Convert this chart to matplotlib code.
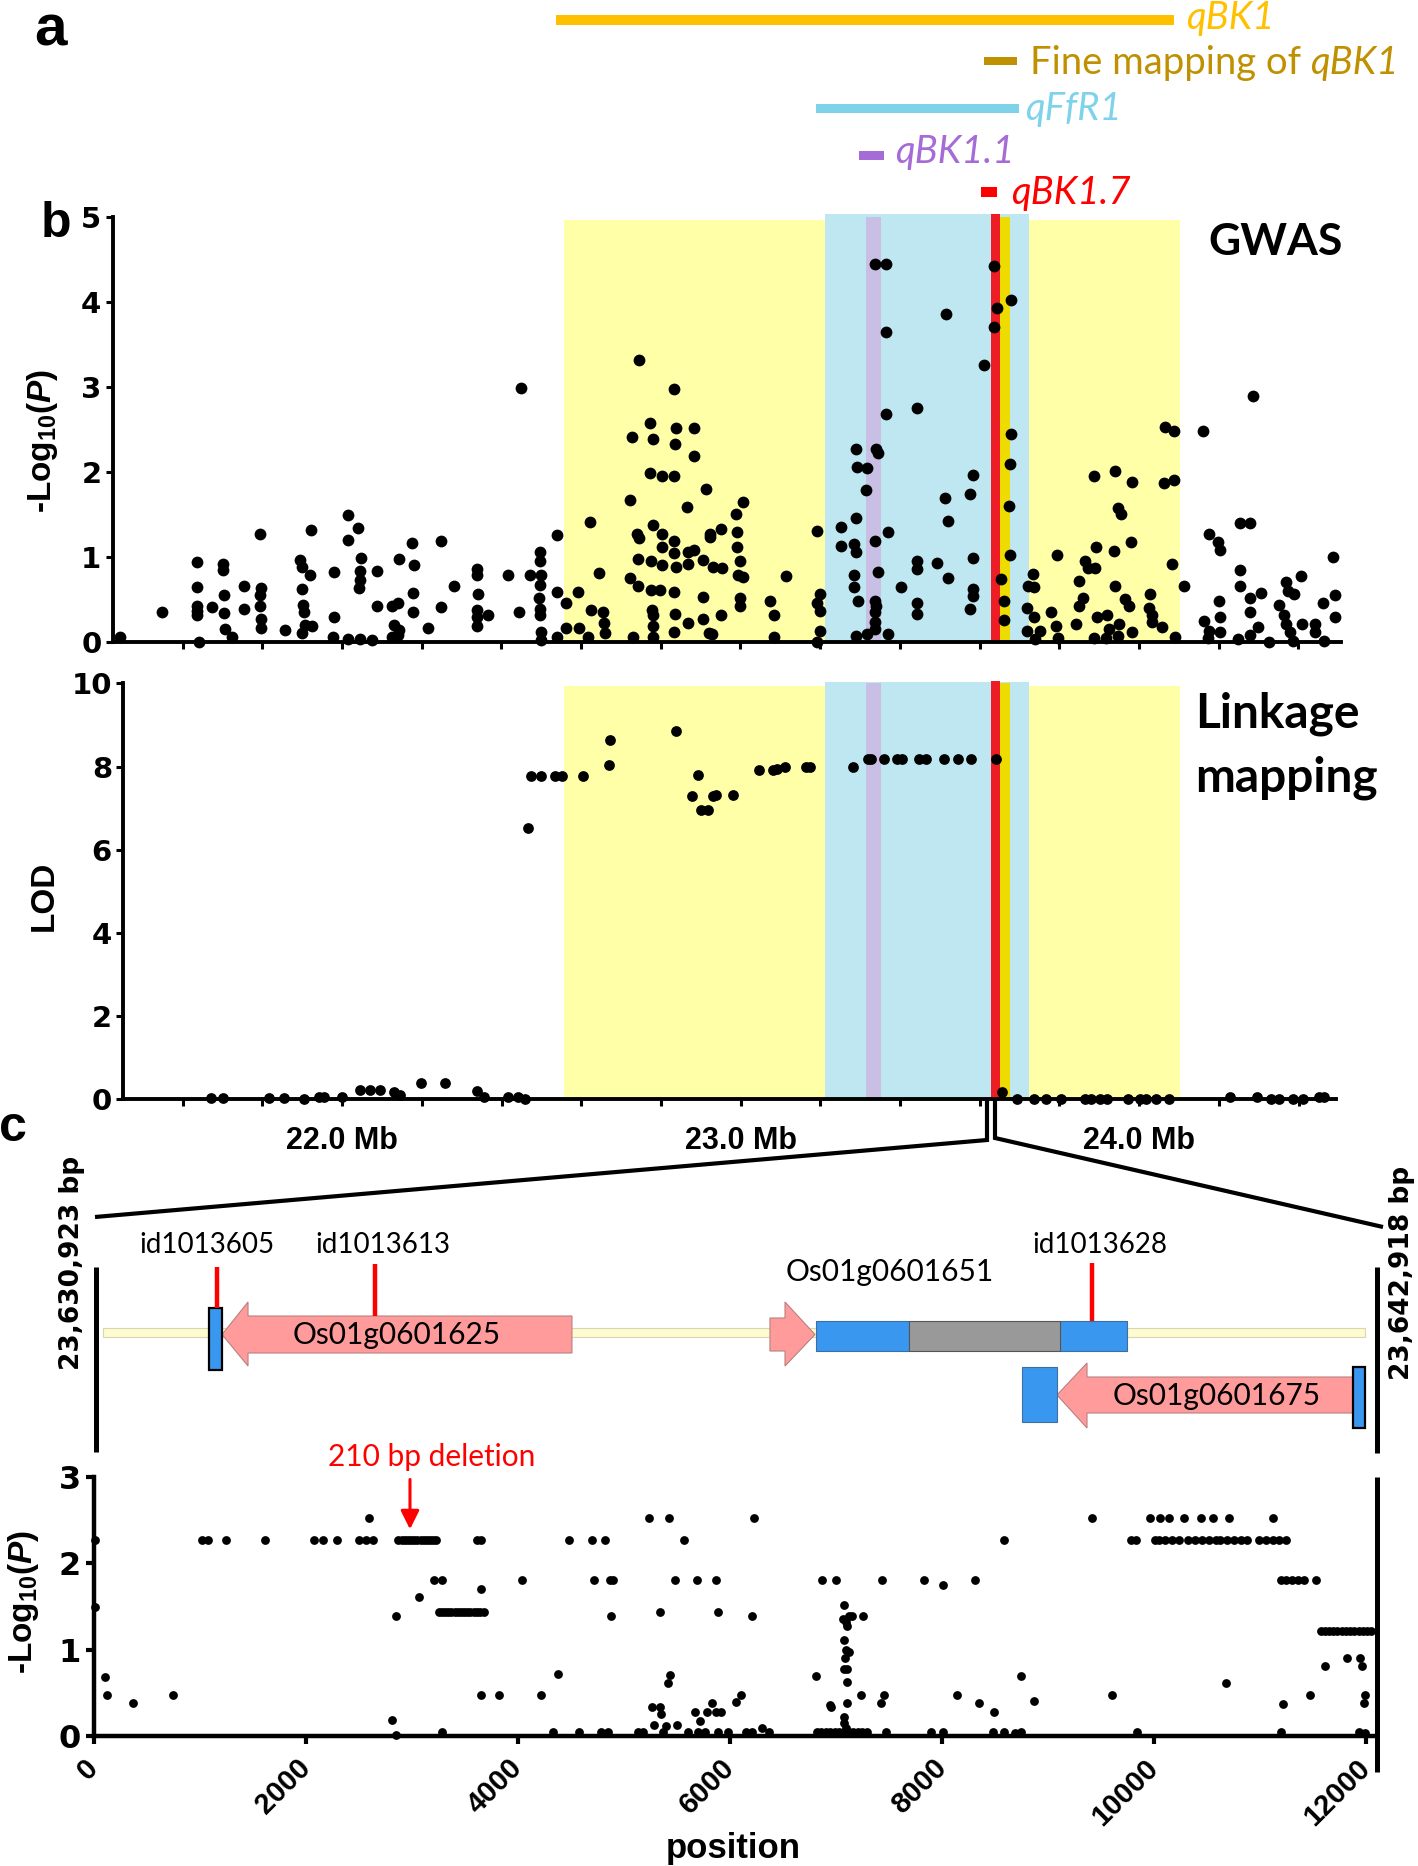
import matplotlib
matplotlib.use('Agg')
import matplotlib.pyplot as plt
from matplotlib.patches import Rectangle, Polygon
from matplotlib.lines import Line2D

plt.rcParams['font.family'] = ['Liberation Sans', 'DejaVu Sans']
plt.rcParams['mathtext.fontset'] = 'custom'
plt.rcParams['mathtext.rm'] = 'Liberation Sans:bold'
plt.rcParams['mathtext.it'] = 'Liberation Sans:italic:bold'
plt.rcParams['mathtext.bf'] = 'Liberation Sans:bold'

# ======================= DATA =======================
# panel a: QTL intervals (Mb)
qtl_labels = ['qBK1', 'Fine mapping of ', 'qFfR1', 'qBK1.1', 'qBK1.7']
qtl_start = [22.537, 23.611, 23.190, 23.297, 23.603]
qtl_end = [24.088, 23.694, 23.700, 23.360, 23.644]
qtl_colors = ['#FFC000', '#BF9000', '#7ED3EA', '#A56BD6', '#FF0000']

# shaded intervals in panel b (Mb)
shade_start = [22.557, 23.212, 23.315, 23.629, 23.650]
shade_end = [24.103, 23.724, 23.353, 23.650, 23.676]
shade_colors = ['#FFFFA8', '#BEE7F2', '#C9BEE4', '#EE1C24', '#EEDC00']
shade_top_gwas = [4.96, 5.03, 5.00, 5.03, 5.00]
shade_top_lod = [9.93, 10.03, 10.00, 10.06, 10.00]

# GWAS (-log10 P vs Mb)
gwas_mb = [
    21.443, 21.549, 21.636, 21.636, 21.636, 21.636, 21.636, 21.641, 21.673, 21.702, 21.702, 21.704, 21.704, 21.707, 21.724,
    21.755, 21.755, 21.793, 21.797, 21.793, 21.793, 21.797, 21.797, 21.856, 21.894, 21.900, 21.920, 21.900, 21.902, 21.905, 21.908, 21.900, 21.925, 21.922,
    21.979, 21.979, 21.977, 22.014, 22.014, 22.040, 22.047, 22.044, 22.044, 22.042, 22.014, 22.046, 22.075, 22.088, 22.088,
    22.126, 22.141, 22.130, 22.144, 22.141, 22.126, 22.144, 22.176, 22.181, 22.178, 22.178, 22.215, 22.249, 22.249, 22.281,
    22.339, 22.339, 22.342, 22.339, 22.339, 22.339, 22.367, 22.416, 22.448, 22.445, 22.471, 22.497, 22.496, 22.499, 22.497, 22.494, 22.497, 22.497, 22.499, 22.499,
    22.540, 22.540, 22.540, 22.563, 22.563, 22.591, 22.594, 22.618, 22.623, 22.626, 22.646, 22.654, 22.658, 22.660,
    22.723, 22.727, 22.723, 22.729, 22.746, 22.741, 22.746, 22.744, 22.744,
    22.773, 22.773, 22.781, 22.781, 22.775, 22.775, 22.777, 22.781, 22.781, 22.781,
    22.804, 22.804, 22.804, 22.804, 22.798,
    22.832, 22.838, 22.835, 22.832, 22.832, 22.832, 22.838, 22.832, 22.835, 22.832,
    22.865, 22.867, 22.867, 22.867, 22.884, 22.884, 22.884, 22.913, 22.907, 22.907, 22.907, 22.924, 22.924, 22.930, 22.922,
    22.950, 22.954, 22.952, 22.928, 22.988, 23.006, 22.991, 22.991, 23.000, 22.994, 23.006, 22.998, 23.000,
    23.075, 23.083, 23.083, 23.115, 23.191, 23.191, 23.199, 23.199, 23.199, 23.191, 23.251, 23.251,
    23.289, 23.292, 23.314, 23.318, 23.291, 23.286, 23.289, 23.286, 23.286, 23.294, 23.289,
    23.338, 23.364, 23.364, 23.366, 23.341, 23.344, 23.338, 23.344, 23.370, 23.338, 23.341, 23.338, 23.338, 23.338, 23.318, 23.370,
    23.404, 23.442, 23.442, 23.442, 23.442, 23.442, 23.493, 23.516, 23.514, 23.521, 23.521,
    23.584, 23.577, 23.583, 23.583, 23.583, 23.575, 23.612, 23.636, 23.635, 23.643, 23.680, 23.680, 23.677, 23.674, 23.677, 23.655, 23.661, 23.661,
    23.718, 23.733, 23.737, 23.722, 23.718, 23.737, 23.751, 23.739, 23.779, 23.791, 23.794, 23.797,
    23.849, 23.864, 23.872, 23.889, 23.860, 23.849, 23.843, 23.886, 23.941, 23.893, 23.938, 23.941, 23.921, 23.895, 23.887, 23.924, 23.918, 23.949, 23.947,
    23.982, 23.947, 23.956, 23.979, 23.964, 23.976, 23.982, 24.028, 24.025, 24.033, 24.033, 24.057, 24.091,
    24.065, 24.088, 24.062, 24.089, 24.082, 24.112, 24.160, 24.176, 24.199, 24.203, 24.163, 24.176, 24.201, 24.203, 24.203, 24.172,
    24.253, 24.253, 24.278, 24.253, 24.249, 24.279, 24.279, 24.305, 24.299, 24.279, 24.285,
    24.326, 24.351, 24.365, 24.368, 24.374, 24.388, 24.368, 24.380, 24.386, 24.406, 24.409, 24.443, 24.443, 24.461, 24.464, 24.487, 24.493, 24.493,
]
gwas_logp = [
    0.05, 0.35, 0.94, 0.64, 0.42, 0.36, 0.31, 0.00, 0.41, 0.92, 0.84, 0.55, 0.34, 0.15, 0.06,
    0.65, 0.39, 1.27, 0.63, 0.55, 0.42, 0.27, 0.16, 0.14, 0.96, 0.88, 0.78, 0.62, 0.43, 0.35, 0.20, 0.10, 0.18, 1.31,
    0.82, 0.29, 0.06, 1.49, 1.20, 1.34, 0.99, 0.83, 0.73, 0.63, 0.03, 0.03, 0.02, 0.83, 0.42,
    0.42, 0.45, 0.20, 0.14, 0.08, 0.06, 0.97, 1.16, 0.90, 0.57, 0.35, 0.16, 1.18, 0.41, 0.65,
    0.86, 0.78, 0.56, 0.37, 0.29, 0.18, 0.31, 0.78, 2.99, 0.35, 0.78, 1.06, 0.95, 0.78, 0.67, 0.51, 0.39, 0.31, 0.11, 0.02,
    1.25, 0.58, 0.06, 0.45, 0.16, 0.58, 0.16, 0.06, 1.41, 0.37, 0.81, 0.35, 0.22, 0.10,
    1.67, 2.41, 0.75, 0.06, 3.31, 1.27, 1.22, 0.97, 0.66,
    2.57, 1.98, 2.38, 1.37, 0.95, 0.61, 0.37, 0.31, 0.18, 0.06,
    1.95, 1.27, 1.12, 0.90, 0.61,
    2.97, 2.51, 2.33, 1.95, 1.18, 1.04, 0.88, 0.58, 0.33, 0.12,
    1.59, 1.06, 0.92, 0.22, 2.51, 2.18, 1.08, 1.80, 0.96, 0.53, 0.27, 1.27, 1.23, 0.88, 0.10,
    1.33, 0.87, 0.31, 0.09, 1.50, 1.64, 1.29, 1.12, 0.95, 0.78, 0.76, 0.52, 0.42,
    0.48, 0.32, 0.06, 0.77, 1.30, 0.46, 0.56, 0.36, 0.13, 0.00, 1.35, 1.13,
    2.27, 2.06, 1.78, 2.04, 1.45, 1.15, 1.06, 0.78, 0.64, 0.48, 0.07,
    4.44, 4.44, 3.64, 2.68, 2.27, 2.22, 1.19, 0.82, 1.29, 0.48, 0.42, 0.35, 0.23, 0.15, 0.09, 0.09,
    0.64, 2.75, 0.95, 0.85, 0.46, 0.33, 0.93, 3.86, 1.69, 1.42, 0.75,
    1.96, 1.74, 0.98, 0.62, 0.54, 0.38, 3.25, 4.42, 3.70, 3.93, 4.02, 2.44, 2.09, 1.60, 1.02, 0.74, 0.48, 0.26,
    0.13, 0.80, 0.64, 0.66, 0.40, 0.29, 0.13, 0.03, 0.35, 0.18, 1.02, 0.04,
    0.72, 0.95, 0.87, 0.87, 0.52, 0.42, 0.21, 1.95, 2.01, 1.12, 1.07, 0.65, 0.31, 0.29, 0.04, 0.15, 0.04, 0.21, 0.07,
    1.88, 1.57, 1.50, 1.17, 0.50, 0.42, 0.12, 0.56, 0.40, 0.31, 0.23, 0.17, 0.06,
    2.53, 2.48, 1.87, 1.90, 0.91, 0.65, 2.48, 1.27, 1.17, 1.08, 0.24, 0.13, 0.48, 0.29, 0.11, 0.04,
    0.84, 1.40, 1.40, 0.66, 0.03, 0.35, 0.51, 0.57, 0.17, 0.08, 2.89,
    0.00, 0.43, 0.31, 0.70, 0.60, 0.56, 0.21, 0.12, 0.01, 0.77, 0.21, 0.21, 0.11, 0.46, 0.01, 1.00, 0.55, 0.29,
]

# Linkage mapping (LOD vs Mb)
lod_mb = [
    21.670, 21.701, 21.816, 21.854, 21.905, 21.943, 21.954, 22.000, 22.046, 22.069, 22.095, 22.130, 22.144, 22.199, 22.258, 22.339, 22.356, 22.417, 22.442, 22.459,
    22.467, 22.474, 22.499, 22.534, 22.551, 22.605, 22.672, 22.669, 22.838, 22.893, 22.878, 22.930, 22.901, 22.918,
    22.939, 22.982, 23.046, 23.081, 23.092, 23.112, 23.164, 23.173, 23.282, 23.320, 23.328, 23.360, 23.393, 23.406, 23.447, 23.464, 23.510, 23.545, 23.577, 23.641,
    23.655, 23.693, 23.736, 23.767, 23.805, 23.863, 23.880, 23.903, 23.920, 23.972, 24.001, 24.018, 24.042, 24.076, 24.229, 24.296, 24.330, 24.351, 24.386, 24.411, 24.452, 24.463,
]
lod_val = [
    0.02, 0.02, 0.02, 0.04, 0.00, 0.05, 0.06, 0.05, 0.22, 0.22, 0.22, 0.18, 0.10, 0.38, 0.38, 0.21, 0.06, 0.06, 0.05, 0.00,
    6.51, 7.77, 7.77, 7.77, 7.77, 7.77, 8.64, 8.03, 8.86, 7.80, 7.29, 7.29, 6.96, 6.96,
    7.32, 7.32, 7.92, 7.92, 7.93, 8.00, 8.00, 8.00, 8.00, 8.18, 8.18, 8.18, 8.18, 8.18, 8.18, 8.18, 8.18, 8.18, 8.18, 8.18,
    0.17, 0.00, 0.00, 0.00, 0.00, 0.00, 0.00, 0.00, 0.00, 0.00, 0.00, 0.00, 0.00, 0.00, 0.05, 0.05, 0.00, 0.00, 0.00, 0.00, 0.05, 0.05,
]

# panel c: association within the 12-kb region (position bp, -log10 P)
c_pos = [
    10, 10, 100, 117, 368, 740, 1018, 1070, 1247, 1615, 2078, 2156, 2295, 2503, 2563, 2628, 2598, 2815, 2845, 2845,
    2870, 2900, 2930, 2960, 2990, 3020, 3050, 3080, 3110, 3140, 3170, 3200, 3226,
    3066, 3204, 3278, 3278,
    3250, 3280, 3310, 3340, 3370, 3400, 3430, 3460, 3490, 3520, 3550, 3580, 3610, 3640, 3675,
    3616, 3650, 3650, 3650, 3819, 4040, 4213, 4330, 4373, 4482, 4577, 4698, 4720, 4819, 4785, 4850, 4863, 4893, 4880,
    5131, 5174, 5239, 5261, 5283, 5335, 5335, 5348, 5369, 5421, 5413, 5434, 5391, 5500, 5477, 5564, 5607, 5672, 5685, 5694, 5716, 5759, 5781, 5833, 5867, 5889, 5867, 5889,
    5914, 6052, 6099, 5979, 6151, 6207, 6302, 6366, 6228, 6207, 6809, 6869, 6998, 6947, 6956,
    7075, 7067, 7097, 7118, 7153, 7256, 7101, 7075, 7097, 7118, 7080, 7075, 7101, 7101, 7101, 7075, 7075, 7097, 7239,
    6817, 6860, 6903, 6946, 6989, 7032, 7075, 7118, 7161, 7204, 7247, 7290,
    7432, 7420, 7450, 7471, 7828, 7892, 8009, 8009, 8142, 8310, 8344, 8494, 8482, 8580, 8580, 8688, 8744, 8744, 8869, 9410, 9600, 9840,
    9785, 9828, 10008, 10043, 10107, 10172, 10236, 10322, 10387, 10451, 10516, 10580, 10623, 10688, 10752, 10817, 10881, 10989, 11053, 11118, 11182, 11247,
    9965, 10051, 10137, 10279, 10438, 10559, 10709, 11126,
    10679, 11195, 11247, 11298, 11354, 11410, 11526, 11195, 11216, 11470, 11612,
    11570, 11610, 11650, 11690, 11730, 11770, 11810, 11850, 11890, 11930, 11970, 12010, 12050,
    11818, 11943, 11965, 11990, 11977, 11935, 11990,
]
c_logp = [
    2.27, 1.49, 0.68, 0.47, 0.38, 0.47, 2.27, 2.27, 2.27, 2.27, 2.27, 2.27, 2.27, 2.27, 2.27, 2.27, 2.52, 0.19, 1.39, 0.01,
    2.27, 2.27, 2.27, 2.27, 2.27, 2.27, 2.27, 2.27, 2.27, 2.27, 2.27, 2.27, 2.27,
    1.61, 1.81, 1.81, 0.05,
    1.43, 1.43, 1.43, 1.43, 1.43, 1.43, 1.43, 1.43, 1.43, 1.43, 1.43, 1.43, 1.43, 1.43, 1.43,
    2.27, 2.27, 1.70, 0.47, 0.47, 1.81, 0.47, 0.05, 0.72, 2.27, 0.05, 2.27, 1.81, 2.27, 0.05, 0.05, 1.81, 1.81, 1.39,
    0.05, 0.05, 2.52, 0.33, 0.13, 1.43, 0.33, 0.26, 0.05, 2.52, 0.61, 0.71, 0.11, 0.13, 1.81, 2.27, 0.05, 0.28, 1.81, 0.05, 0.17, 0.05, 0.28, 0.38, 1.81, 1.43, 0.28, 0.05,
    0.28, 0.39, 0.47, 0.05, 0.05, 0.05, 0.09, 0.05, 2.52, 1.39, 0.69, 1.81, 1.81, 0.36, 0.33,
    1.51, 1.35, 1.32, 1.39, 1.39, 1.39, 1.27, 1.11, 1.00, 0.97, 0.90, 0.78, 0.78, 0.63, 0.38, 0.22, 0.15, 0.09, 0.47,
    0.05, 0.05, 0.05, 0.05, 0.05, 0.05, 0.05, 0.05, 0.05, 0.05, 0.05, 0.05,
    1.81, 0.38, 0.47, 0.05, 1.81, 0.05, 1.75, 0.05, 0.47, 1.81, 0.38, 0.28, 0.05, 2.27, 0.05, 0.03, 0.05, 0.69, 0.41, 2.52, 0.47, 0.05,
    2.27, 2.27, 2.27, 2.27, 2.27, 2.27, 2.27, 2.27, 2.27, 2.27, 2.27, 2.27, 2.27, 2.27, 2.27, 2.27, 2.27, 2.27, 2.27, 2.27, 2.27, 2.27,
    2.52, 2.52, 2.52, 2.52, 2.52, 2.52, 2.52, 2.52,
    0.61, 1.81, 1.81, 1.81, 1.81, 1.81, 1.81, 0.05, 0.37, 0.47, 0.81,
    1.22, 1.22, 1.22, 1.22, 1.22, 1.22, 1.22, 1.22, 1.22, 1.22, 1.22, 1.22, 1.22,
    0.90, 0.90, 0.81, 0.47, 0.38, 0.05, 0.03,
]

# axis ticks
mb_ticks = [21.6, 21.8, 22.0, 22.2, 22.4, 22.6, 22.8, 23.0, 23.2, 23.4, 23.6, 23.8, 24.0, 24.2, 24.4]
mb_tick_labels = ['', '', '22.0 Mb', '', '', '', '', '23.0 Mb', '', '', '', '', '24.0 Mb', '', '']
pos_ticks = [0, 2000, 4000, 6000, 8000, 10000, 12000]

# gene models in the 12-kb window (bp)
region_len = 11990
snp_names = ['id1013605', 'id1013613', 'id1013628']
snp_pos = [1160, 2650, 9414]
gene_names = ['Os01g0601625', 'Os01g0601651', 'Os01g0601675']
utr_start = [1084, 6806, 9109, 8754, 11876]
utr_end = [1207, 7685, 9741, 9084, 11990]
cds_start = [7685]
cds_end = [9109]
arrow_tail = [4508, 6376, 11876]
arrow_base = [1452, 6518, 9367]
arrow_tip = [1207, 6801, 9084]

# ======================= FIGURE =======================
W, H = 1418, 1866
fig = plt.figure(figsize=(W / 100, H / 100), dpi=100)


def add_ax(l, t, r, b):
    return fig.add_axes([l / W, 1 - b / H, (r - l) / W, (b - t) / H])


def fig_line(xs, ys, **kw):
    fig.add_artist(Line2D([x / W for x in xs], [1 - y / H for y in ys],
                          transform=fig.transFigure, **kw))


def fig_text(x, y, s, **kw):
    return fig.text(x / W, 1 - y / H, s, **kw)


TICKFONT = dict(family='DejaVu Sans', weight='bold')

# ---------- panel a ----------
ax0 = add_ax(112.5, 0, 1341, 212)
ax0.set_xlim(21.424, 24.507)
ax0.set_ylim(212, 0)
ax0.axis('off')
bar_y = [20, 61, 108, 155, 192]
bar_h = [10, 8, 9, 9, 10]
text_base = [29, 74, 120, 163, 204]
text_gap = [9, 9, 4, 8, 10]
for i in range(len(qtl_labels)):
    ax0.barh(bar_y[i], qtl_end[i] - qtl_start[i], left=qtl_start[i], height=bar_h[i],
             color=qtl_colors[i], lw=0)
    style = 'normal' if i == 1 else 'italic'
    t = ax0.annotate(qtl_labels[i], xy=(qtl_end[i], text_base[i]), xytext=(text_gap[i], 0),
                     textcoords='offset points', va='baseline', ha='left',
                     fontsize=27.5, family='Lato', style=style, color=qtl_colors[i])
    if i == 1:
        ax0.annotate('qBK1', xy=(1, 0), xycoords=t, va='bottom', ha='left',
                     fontsize=27.5, family='Lato', style='italic', color=qtl_colors[i])

# ---------- panel b : GWAS ----------
ax1 = add_ax(112.5, 216.7, 1341, 641.7)
ax1.set_xlim(21.424, 24.507)
ax1.set_ylim(0, 5)
for i in range(len(shade_start)):
    ax1.add_patch(Rectangle((shade_start[i], 0), shade_end[i] - shade_start[i], shade_top_gwas[i],
                            facecolor=shade_colors[i], lw=0, zorder=0.5, clip_on=False))
ax1.scatter(gwas_mb, gwas_logp, s=72, c='black', lw=0, zorder=3, clip_on=False)
ax1.set_xticks(mb_ticks)
ax1.set_xticklabels([])
ax1.set_yticks([0, 1, 2, 3, 4, 5])
ax1.set_yticklabels(['0', '1', '2', '3', '4', '5'], fontsize=21, **TICKFONT)
ax1.set_ylabel('-Log$_{10}$($\\mathit{P}$)', fontsize=24, fontweight='bold')
ax1.yaxis.set_label_coords((60 - 112.5) / (1341 - 112.5), (641.7 - 441) / 425)

# ---------- panel b : linkage ----------
ax2 = add_ax(123, 683.3, 1336, 1099.3)
ax2.set_xlim(21.45, 24.494)
ax2.set_ylim(0, 10)
for i in range(len(shade_start)):
    ax2.add_patch(Rectangle((shade_start[i], 0), shade_end[i] - shade_start[i], shade_top_lod[i],
                            facecolor=shade_colors[i], lw=0, zorder=0.5, clip_on=False))
ax2.scatter(lod_mb, lod_val, s=60, c='black', lw=0, zorder=3, clip_on=False)
ax2.set_xticks(mb_ticks)
ax2.set_xticklabels(mb_tick_labels, fontsize=22, fontweight='bold')
ax2.set_yticks([0, 2, 4, 6, 8, 10])
ax2.set_yticklabels(['0', '2', '4', '6', '8', '10'], fontsize=21, **TICKFONT)
ax2.set_ylabel('LOD', fontsize=24, fontweight='bold')
ax2.yaxis.set_label_coords((60 - 123) / (1336 - 123), (1099.3 - 896) / 416)

for ax in (ax1, ax2):
    for sp in ('top', 'right'):
        ax.spines[sp].set_visible(False)
    for sp in ('left', 'bottom'):
        ax.spines[sp].set_linewidth(2.8)
    ax.tick_params(axis='both', direction='out', length=5, width=2.2, pad=3)
    ax.set_facecolor('none')
ax2.tick_params(axis='x', pad=14)

fig_text(1208, 255, 'GWAS', fontsize=32, fontweight='bold', family='Lato', va='baseline')
fig_text(1195, 728, 'Linkage', fontsize=34.5, fontweight='bold', family='Lato', va='baseline')
fig_text(1195, 792, 'mapping', fontsize=34.5, fontweight='bold', family='Lato', va='baseline')

# ---------- zoom lines ----------
zl = dict(color='black', lw=3, solid_capstyle='butt', solid_joinstyle='miter')
fig_line([987, 987, 95], [1100, 1140, 1217], **zl)
fig_line([995, 995, 1383], [1100, 1138, 1227], **zl)

# ---------- panel c : gene models ----------
ax3 = add_ax(94.1, 1225, 1373, 1440)
ax3.set_xlim(0, 12065)
ax3.set_ylim(1440, 1225)
ax3.axis('off')
ax3.add_patch(Rectangle((85, 1328), region_len - 85, 9, facecolor='#FFFBD0',
                        edgecolor='#D9D6B0', lw=0.8, zorder=1))
blue = '#3A97F0'
pink = '#FF9B9B'
utr_y = [(1308, 1370), (1321, 1351), (1321, 1351), (1367, 1422), (1367, 1428)]
utr_edge = [1.6, 0.8, 0.8, 0.8, 1.6]
for i in range(len(utr_start)):
    y0, y1 = utr_y[i]
    ax3.add_patch(Rectangle((utr_start[i], y0), utr_end[i] - utr_start[i], y1 - y0,
                            facecolor=blue, edgecolor='black' if utr_edge[i] > 1 else '#3A6FA0',
                            lw=utr_edge[i], zorder=3))
for i in range(len(cds_start)):
    ax3.add_patch(Rectangle((cds_start[i], 1321), cds_end[i] - cds_start[i], 30,
                            facecolor='#999999', edgecolor='#555555', lw=0.8, zorder=3))
arrow_rows = [(1316, 1353, 1302, 1366), (1318, 1351, 1302, 1366), (1377, 1413, 1363, 1428)]
for i in range(len(arrow_tail)):
    bt, bb, ht, hb = arrow_rows[i]
    mid = (bt + bb) / 2
    pts = [(arrow_tail[i], bt), (arrow_base[i], bt), (arrow_base[i], ht), (arrow_tip[i], mid),
           (arrow_base[i], hb), (arrow_base[i], bb), (arrow_tail[i], bb)]
    ax3.add_patch(Polygon(pts, closed=True, facecolor=pink, edgecolor='#B88080', lw=0.8, zorder=2))
snp_top = [1267, 1264, 1263]
snp_bot = [1308, 1316, 1321]
for i in range(len(snp_pos)):
    ax3.plot([snp_pos[i], snp_pos[i]], [snp_top[i], snp_bot[i]], color='red', lw=3.2,
             solid_capstyle='butt', zorder=4)
snp_label_x = [1065, 2725, 9489]
for i in range(len(snp_names)):
    ax3.text(snp_label_x[i], 1253, snp_names[i], family='Lato', fontsize=20,
             ha='center', va='baseline', zorder=5)
gene_label_x = [2856, 7509, 10594]
gene_label_y = [1344, 1281, 1405]
for i in range(len(gene_names)):
    ax3.text(gene_label_x[i], gene_label_y[i], gene_names[i], family='Lato', fontsize=21.5,
             ha='center', va='baseline', zorder=5)

# vertical frame lines of the zoomed region
fl = dict(color='black', lw=3.6, solid_capstyle='butt')
fig_line([96, 96], [1267, 1452], **fl)
fig_line([1377, 1377], [1267, 1453], **fl)
fig_line([1377, 1377], [1477, 1772], **fl)
fig_text(72, 1263, '23,630,923 bp', rotation=90, ha='center', va='center',
         fontsize=19, fontweight='bold', family='DejaVu Sans')
fig_text(1402, 1273, '23,642,918 bp', rotation=90, ha='center', va='center',
         fontsize=19, fontweight='bold', family='DejaVu Sans')

# ---------- panel c : association ----------
ax4 = add_ax(94.1, 1476.7, 1373, 1736)
ax4.set_xlim(0, 12065)
ax4.set_ylim(0, 3)
ax4.scatter(c_pos, c_logp, s=40, c='black', lw=0, zorder=3, clip_on=False)
for sp in ('top', 'right'):
    ax4.spines[sp].set_visible(False)
for sp in ('left', 'bottom'):
    ax4.spines[sp].set_linewidth(3.2)
ax4.set_yticks([0, 1, 2, 3])
ax4.set_yticklabels(['0', '1', '2', '3'], fontsize=23, **TICKFONT)
ax4.set_xticks(pos_ticks)
ax4.set_xticklabels([str(p) for p in pos_ticks], fontsize=21, fontweight='bold')
ax4.tick_params(axis='both', direction='out', length=6, width=3)
ax4.tick_params(axis='x', pad=14)
for lab in ax4.get_xticklabels():
    lab.set_rotation(45)
    lab.set_ha('right')
    lab.set_va('center')
    lab.set_rotation_mode('anchor')
ax4.set_ylabel('-Log$_{10}$($\\mathit{P}$)', fontsize=24, fontweight='bold')
ax4.yaxis.set_label_coords((41 - 94.1) / (1373 - 94.1), (1736 - 1602) / 259.3)
ax4.set_xlabel('position', fontsize=25, fontweight='bold')
ax4.xaxis.set_label_coords(0.5, (1736 - 1858) / 259.3)
ax4.xaxis.label.set_va('baseline')
ax4.annotate('', xy=(2980, 2.36), xytext=(2980, 3.0),
             arrowprops=dict(arrowstyle='-|>', color='red', lw=2.2, mutation_scale=28),
             annotation_clip=False)
ax4.text(3184, 3.23, '210 bp deletion', color='red', family='Lato', fontsize=21.5,
         ha='center', va='center')

# ---------- panel letters ----------
fig_text(50, 31, 'a', fontsize=42, fontweight='bold', ha='center', va='center')
fig_text(56, 224, 'b', fontsize=36, fontweight='bold', ha='center', va='center')
fig_text(13, 1128, 'c', fontsize=36, fontweight='bold', ha='center', va='center')

fig.savefig('out.png', dpi=100)
